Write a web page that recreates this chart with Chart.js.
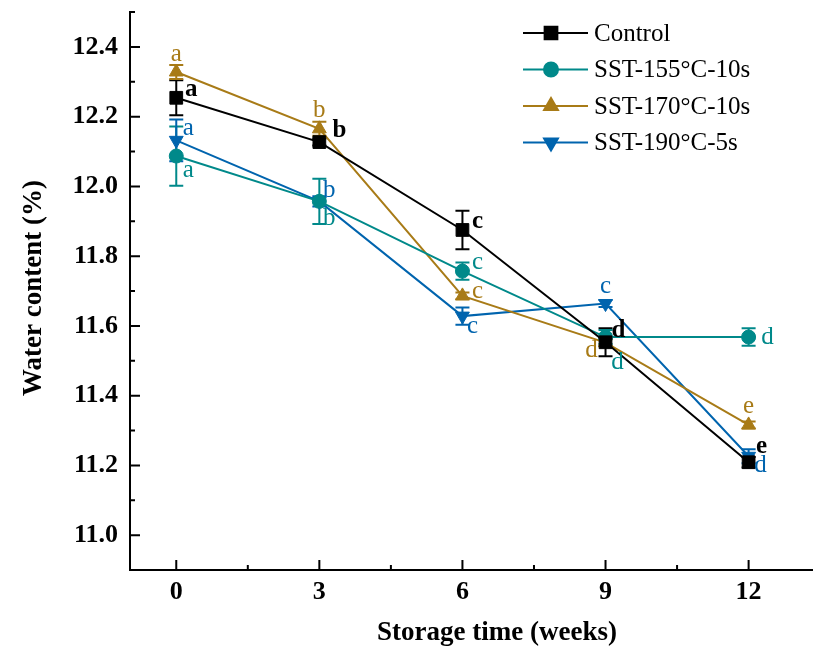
<!DOCTYPE html>
<html>
<head>
<meta charset="utf-8">
<script src="https://cdn.jsdelivr.net/npm/chart.js@4.4.1/dist/chart.umd.min.js"></script>
<style>
  html, body { margin: 0; padding: 0; background: #fff; overflow: hidden; }
  canvas { display: block; }
</style>
</head>
<body>
<canvas id="waterChart" width="813" height="648"></canvas>
<script>
// storage weeks and water content (%) per treatment
var weeks = [0, 3, 6, 9, 12];
var seriesNames = ['Control', 'SST-155°C-10s', 'SST-170°C-10s', 'SST-190°C-5s'];

var control = [12.254, 12.127, 11.875, 11.553, 11.209];
var sst155 = [12.087, 11.957, 11.757, 11.568, 11.568];
var sst170 = [12.328, 12.165, 11.686, 11.552, 11.316];
var sst190 = [12.132, 11.957, 11.628, 11.664, 11.226];

var controlErr = [0.05, 0.01, 0.055, 0.04, 0.015];
var sst155Err = [0.085, 0.065, 0.025, 0.02, 0.025];
var sst170Err = [0.02, 0.02, 0.01, 0.01, 0.01];
var sst190Err = [0.06, 0.015, 0.025, 0.01, 0.02];

var controlLetters = ['a', 'b', 'c', 'd', 'e'];
var sst155Letters = ['a', 'b', 'c', 'd', 'd'];
var sst170Letters = ['a', 'b', 'c', 'd', 'e'];
var sst190Letters = ['a', 'b', 'c', 'c', 'd'];

var xTicks = [0, 3, 6, 9, 12];
var xMinorTicks = [1.5, 4.5, 7.5, 10.5];
var yTicks = [11.0, 11.2, 11.4, 11.6, 11.8, 12.0, 12.2, 12.4];
var yMinorTicks = [10.9, 11.1, 11.3, 11.5, 11.7, 11.9, 12.1, 12.3, 12.5];

var colors = ['#000000', '#00898A', '#A87B17', '#0064AE'];
var serif = '"Liberation Serif", "DejaVu Serif", serif';

// letter offsets (px) relative to each marker
var letterOffsets = [
    [[15, -8], [20, -12], [15, -8], [13, -12], [13, -16]],
    [[12, 14], [10, 17], [15, -9], [12, 25], [19, 0]],
    [[0, -18], [0, -18], [15, -4], [-14, 8], [0, -18]],
    [[12, -12], [10, -11], [10, 10], [0, -17], [12, 9]]
];

function toPoints(values) {
    return weeks.map(function (w, i) { return { x: w, y: values[i] }; });
}

var errs = [controlErr, sst155Err, sst170Err, sst190Err];
var letters = [controlLetters, sst155Letters, sst170Letters, sst190Letters];

var errorBars = {
    id: 'errorBars',
    beforeDatasetsDraw: function (chart) {
        var ctx = chart.ctx;
        var xs = chart.scales.x, ys = chart.scales.y;
        chart.data.datasets.forEach(function (ds, d) {
            ctx.save();
            ctx.strokeStyle = colors[d];
            ctx.lineWidth = 2;
            ds.data.forEach(function (p, i) {
                var e = errs[d][i];
                var px = xs.getPixelForValue(p.x);
                var top = ys.getPixelForValue(p.y + e);
                var bot = ys.getPixelForValue(p.y - e);
                ctx.beginPath();
                ctx.moveTo(px, top); ctx.lineTo(px, bot);
                ctx.moveTo(px - 7, top); ctx.lineTo(px + 7, top);
                ctx.moveTo(px - 7, bot); ctx.lineTo(px + 7, bot);
                ctx.stroke();
            });
            ctx.restore();
        });
    }
};

var decorations = {
    id: 'decorations',
    afterDraw: function (chart) {
        var ctx = chart.ctx;
        var xs = chart.scales.x, ys = chart.scales.y;
        var area = chart.chartArea;
        ctx.save();

        // inward ticks
        ctx.strokeStyle = '#000';
        ctx.lineWidth = 2;
        ctx.beginPath();
        xTicks.forEach(function (v) {
            var px = xs.getPixelForValue(v);
            ctx.moveTo(px, area.bottom); ctx.lineTo(px, area.bottom - 10);
        });
        xMinorTicks.forEach(function (v) {
            var px = xs.getPixelForValue(v);
            ctx.moveTo(px, area.bottom); ctx.lineTo(px, area.bottom - 5);
        });
        yTicks.forEach(function (v) {
            var py = ys.getPixelForValue(v);
            ctx.moveTo(area.left, py); ctx.lineTo(area.left + 10, py);
        });
        yMinorTicks.forEach(function (v) {
            var py = ys.getPixelForValue(v);
            ctx.moveTo(area.left, py); ctx.lineTo(area.left + 5, py);
        });
        ctx.stroke();

        // significance letters
        ctx.textAlign = 'center';
        ctx.textBaseline = 'middle';
        chart.data.datasets.forEach(function (ds, d) {
            ctx.fillStyle = colors[d];
            ctx.font = (d === 0 ? 'bold ' : '') + '25px ' + serif;
            ds.data.forEach(function (p, i) {
                var px = xs.getPixelForValue(p.x) + letterOffsets[d][i][0];
                var py = ys.getPixelForValue(p.y) + letterOffsets[d][i][1];
                ctx.fillText(letters[d][i], px, py);
            });
        });

        // axis titles
        ctx.fillStyle = '#000';
        ctx.font = 'bold 27px ' + serif;
        ctx.fillText('Storage time (weeks)', 497, 633);
        ctx.save();
        ctx.translate(34, 288);
        ctx.rotate(-Math.PI / 2);
        ctx.fillText('Water content (%)', 0, 0);
        ctx.restore();

        // legend
        ctx.font = '25px ' + serif;
        ctx.textAlign = 'left';
        chart.data.datasets.forEach(function (ds, d) {
            var y = 33 + d * 36.5;
            ctx.strokeStyle = colors[d];
            ctx.lineWidth = 2;
            ctx.beginPath();
            ctx.moveTo(523, y); ctx.lineTo(588, y);
            ctx.stroke();
            ctx.fillStyle = colors[d];
            Chart.helpers.drawPoint(ctx, {
                pointStyle: ds.pointStyle,
                radius: ds.pointRadius,
                rotation: ds.pointRotation || 0,
                borderWidth: 1
            }, 551, y);
            ctx.fillStyle = '#000';
            ctx.fillText(ds.label, 594, y + 1);
        });
        ctx.restore();
    }
};

var styles = ['rect', 'circle', 'triangle', 'triangle'];
var radii = [9, 7, 8, 8];
var values = [control, sst155, sst170, sst190];

function noEdgePadding(axis) {
    axis.paddingTop = 0;
    axis.paddingBottom = 0;
    axis.paddingLeft = 0;
    axis.paddingRight = 0;
}

var ctx = document.getElementById('waterChart').getContext('2d');
var waterChart = new Chart(ctx, {
    type: 'line',
    data: {
        datasets: values.map(function (v, d) {
            return {
                label: seriesNames[d],
                data: toPoints(v),
                borderColor: colors[d],
                backgroundColor: colors[d],
                borderWidth: 2,
                pointStyle: styles[d],
                pointRotation: d === 3 ? 180 : 0,
                pointRadius: radii[d],
                pointBorderWidth: 1,
                tension: 0
            };
        })
    },
    options: {
        responsive: false,
        animation: false,
        layout: { autoPadding: false, padding: { top: 12, right: 0, left: 0, bottom: 0 } },
        plugins: {
            legend: { display: false },
            tooltip: { enabled: false }
        },
        scales: {
            x: {
                type: 'linear',
                min: -0.97,
                max: 13.35,
                grid: { display: false, drawTicks: false },
                border: { display: true, color: '#000', width: 2 },
                afterBuildTicks: function (axis) {
                    axis.ticks = xTicks.map(function (v) { return { value: v }; });
                },
                afterFit: function (axis) { axis.height = 78; noEdgePadding(axis); },
                ticks: {
                    padding: 7,
                    color: '#000',
                    font: { family: serif, size: 26, weight: 'bold' }
                }
            },
            y: {
                min: 10.9,
                max: 12.5,
                grid: { display: false, drawTicks: false },
                border: { display: true, color: '#000', width: 2 },
                afterBuildTicks: function (axis) {
                    axis.ticks = yTicks.map(function (v) { return { value: v }; });
                },
                afterFit: function (axis) { axis.width = 130; noEdgePadding(axis); },
                ticks: {
                    padding: 12,
                    color: '#000',
                    font: { family: serif, size: 26, weight: 'bold' },
                    callback: function (v) { return Number(v).toFixed(1); }
                }
            }
        }
    },
    plugins: [errorBars, decorations]
});
</script>
</body>
</html>
